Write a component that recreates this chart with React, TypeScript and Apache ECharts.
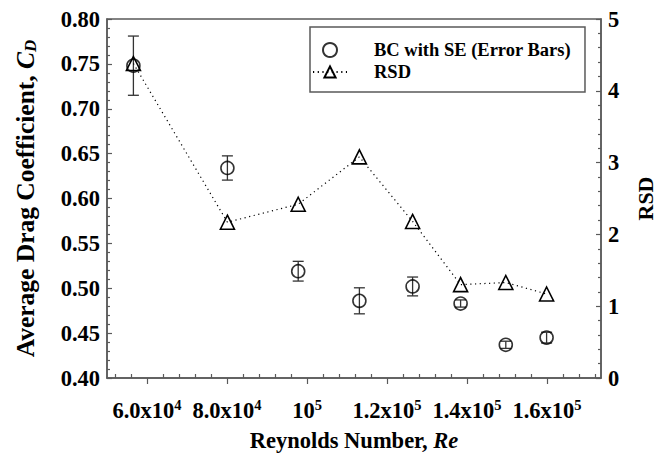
import React, { useEffect, useRef } from 'react';
import * as echarts from 'echarts';

// Data
const reynolds = [56600, 80100, 97800, 113100, 126400, 138400, 149700, 159900];
const dragCoeff = [0.748, 0.634, 0.519, 0.486, 0.502, 0.483, 0.437, 0.445];
const dragSE = [0.033, 0.0135, 0.011, 0.0145, 0.0105, 0.004, 0.004, 0.006];
const rsd = [4.38, 2.17, 2.42, 3.08, 2.18, 1.3, 1.33, 1.17];

// Axis ticks / labels
const xMajorTicks = [60000, 80000, 100000, 120000, 140000, 160000];
const xMajorMantissa = ['6.0x10', '8.0x10', '10', '1.2x10', '1.4x10', '1.6x10'];
const xMajorExponent = ['4', '4', '5', '5', '5', '5'];
const xMinorTicks = [
  52000, 56000, 64000, 68000, 72000, 76000, 84000, 88000, 92000, 96000,
  104000, 108000, 112000, 116000, 124000, 128000, 132000, 136000,
  144000, 148000, 152000, 156000, 164000, 168000, 172000,
];

const FONT = '"Liberation Serif", "Times New Roman", serif';
const AXIS_GRAY = '#5a5a5a';
const XTICK_FS = 22.5;
const YTICK_FS = 22.5;

export default function App() {
  const ref = useRef<HTMLDivElement>(null);

  useEffect(() => {
    if (!ref.current) return;
    const chart = echarts.init(ref.current, undefined, { renderer: 'svg' });

    const errData = reynolds.map((x, i) => [x, dragCoeff[i] - dragSE[i], dragCoeff[i] + dragSE[i]]);
    const bcData = reynolds.map((x, i) => [x, dragCoeff[i]]);
    const rsdData = reynolds.map((x, i) => [x, rsd[i]]);

    const xMin = 50000;
    const xMax = 173500;

    chart.setOption({
      animation: false,
      textStyle: { fontFamily: FONT },
      grid: {
        left: 107,
        right: 59,
        top: 19,
        bottom: 81,
        outerBoundsMode: 'none',
        containLabel: false,
        show: true,
        borderColor: AXIS_GRAY,
        borderWidth: 1.5,
        backgroundColor: 'transparent',
      },
      legend: {
        orient: 'vertical',
        left: 310,
        top: 27,
        padding: [13, 14, 10, 2],
        itemGap: 2,
        itemWidth: 34,
        itemHeight: 14,
        borderColor: AXIS_GRAY,
        borderWidth: 1.5,
        borderRadius: 0,
        textStyle: {
          fontFamily: FONT,
          fontWeight: 'bold',
          fontSize: 18.5,
          color: '#000',
          lineHeight: 20,
          padding: [0, 0, 0, 22],
        },
        data: ['BC with SE (Error Bars)', 'RSD'],
      },
      xAxis: [
        {
          type: 'value',
          min: xMin,
          max: xMax,
          position: 'bottom',
          name: '{n|Reynolds Number, }{i|Re}',
          nameLocation: 'middle',
          nameGap: 50,
          nameTextStyle: {
            rich: {
              n: { fontFamily: FONT, fontWeight: 'bold', fontSize: 22.5, color: '#000', lineHeight: 24 },
              i: { fontFamily: FONT, fontWeight: 'bold', fontStyle: 'italic', fontSize: 22.5, color: '#000', lineHeight: 24 },
            },
          },
          splitLine: { show: false },
          axisLine: { show: true, lineStyle: { color: AXIS_GRAY, width: 1.5 } },
          axisTick: {
            show: true,
            inside: false,
            length: 6,
            customValues: xMajorTicks,
            lineStyle: { color: AXIS_GRAY, width: 1.2 },
          },
          axisLabel: {
            show: true,
            margin: 19,
            customValues: xMajorTicks,
            formatter: (v: number) => {
              const i = xMajorTicks.indexOf(v);
              if (i < 0) return '';
              return `{b|${xMajorMantissa[i]}}{s|${xMajorExponent[i]}}`;
            },
            rich: {
              b: { fontFamily: FONT, fontWeight: 'bold', fontSize: XTICK_FS, color: '#000', lineHeight: 26 },
              s: { fontFamily: FONT, fontWeight: 'bold', fontSize: 14.5, color: '#000', lineHeight: 14, verticalAlign: 'top' },
            },
          },
        },
        {
          type: 'value',
          min: xMin,
          max: xMax,
          position: 'bottom',
          splitLine: { show: false },
          axisLine: { show: false },
          axisLabel: { show: false },
          axisTick: {
            show: true,
            inside: true,
            length: 4,
            customValues: xMinorTicks,
            lineStyle: { color: AXIS_GRAY, width: 1.2 },
          },
        },
      ],
      yAxis: [
        {
          type: 'value',
          min: 0.4,
          max: 0.8,
          interval: 0.05,
          position: 'left',
          name: '{n|Average Drag Coefficient, }{i|C}{sub|D}',
          nameLocation: 'middle',
          nameRotate: 90,
          nameGap: 68,
          nameTextStyle: {
            rich: {
              n: { fontFamily: FONT, fontWeight: 'bold', fontSize: 25.5, color: '#000', lineHeight: 28 },
              i: { fontFamily: FONT, fontWeight: 'bold', fontStyle: 'italic', fontSize: 25.5, color: '#000', lineHeight: 28 },
              sub: { fontFamily: FONT, fontWeight: 'bold', fontStyle: 'italic', fontSize: 17, color: '#000', lineHeight: 16, verticalAlign: 'bottom' },
            },
          },
          splitLine: { show: false },
          axisLine: { show: true, lineStyle: { color: AXIS_GRAY, width: 1.5 } },
          axisTick: { show: true, inside: true, length: 5, lineStyle: { color: AXIS_GRAY, width: 1.2 } },
          minorTick: { show: true, splitNumber: 5, length: 3, lineStyle: { color: AXIS_GRAY, width: 1.2 } },
          axisLabel: {
            margin: 7,
            color: '#000',
            fontFamily: FONT,
            fontWeight: 'bold',
            fontSize: YTICK_FS,
            formatter: (v: number) => v.toFixed(2),
          },
        },
        {
          type: 'value',
          min: 0,
          max: 5,
          interval: 1,
          position: 'right',
          name: 'RSD',
          nameLocation: 'middle',
          nameRotate: 90,
          nameGap: 33,
          nameTextStyle: { fontFamily: FONT, fontWeight: 'bold', fontSize: 22, color: '#000', lineHeight: 22 },
          splitLine: { show: false },
          axisLine: { show: true, lineStyle: { color: AXIS_GRAY, width: 1.5 } },
          axisTick: { show: true, inside: true, length: 5, lineStyle: { color: AXIS_GRAY, width: 1.2 } },
          minorTick: { show: true, splitNumber: 5, length: 3, lineStyle: { color: AXIS_GRAY, width: 1.2 } },
          axisLabel: {
            margin: 7,
            color: '#000',
            fontFamily: FONT,
            fontWeight: 'bold',
            fontSize: YTICK_FS,
          },
        },
      ],
      series: [
        {
          name: 'SE',
          type: 'custom',
          xAxisIndex: 0,
          yAxisIndex: 0,
          data: errData,
          silent: true,
          z: 1,
          renderItem: (params: any, api: any) => {
            const x = api.value(0);
            const lo = api.value(1);
            const hi = api.value(2);
            const pTop = api.coord([x, hi]);
            const pBot = api.coord([x, lo]);
            const cap = 5.5;
            const style = { stroke: '#333', lineWidth: 1.3 };
            return {
              type: 'group',
              children: [
                { type: 'line', shape: { x1: pTop[0], y1: pTop[1], x2: pBot[0], y2: pBot[1] }, style },
                { type: 'line', shape: { x1: pTop[0] - cap, y1: pTop[1], x2: pTop[0] + cap, y2: pTop[1] }, style },
                { type: 'line', shape: { x1: pBot[0] - cap, y1: pBot[1], x2: pBot[0] + cap, y2: pBot[1] }, style },
              ],
            };
          },
        },
        {
          name: 'BC with SE (Error Bars)',
          type: 'scatter',
          xAxisIndex: 0,
          yAxisIndex: 0,
          data: bcData,
          symbol: 'circle',
          symbolSize: 13,
          z: 3,
          itemStyle: { color: 'transparent', borderColor: '#000', borderWidth: 1.6 },
        },
        {
          name: 'RSD',
          type: 'line',
          xAxisIndex: 0,
          yAxisIndex: 1,
          data: rsdData,
          symbol: 'triangle',
          symbolSize: 14,
          z: 4,
          lineStyle: { color: '#000', width: 1.2, type: [1.2, 3.5] },
          itemStyle: { color: 'transparent', borderColor: '#000', borderWidth: 1.6 },
        },
      ],
    });

    return () => {
      chart.dispose();
    };
  }, []);

  return (
    <div
      ref={ref}
      style={{ position: 'fixed', left: 0, top: 0, width: 660, height: 459, background: '#fff' }}
    />
  );
}
